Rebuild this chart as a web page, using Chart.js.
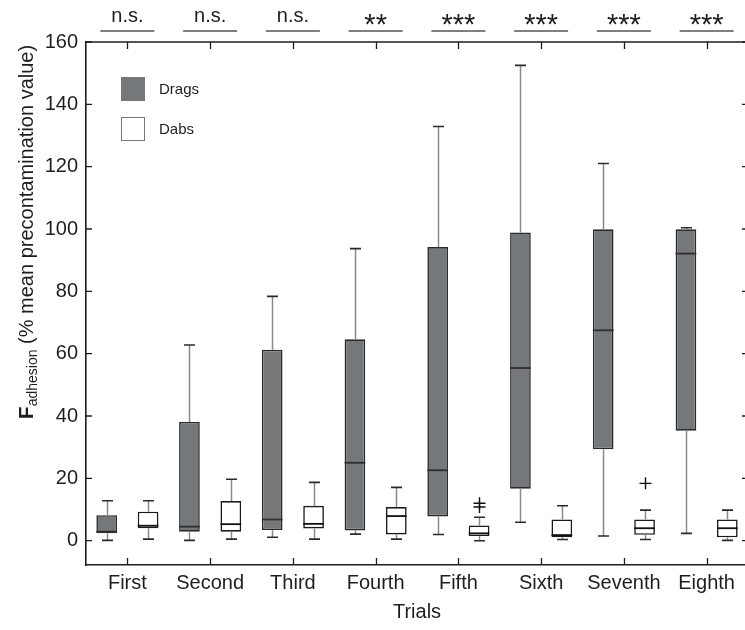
<!DOCTYPE html>
<html><head><meta charset="utf-8">
<script src="https://cdn.jsdelivr.net/npm/chart.js@4.4.1/dist/chart.umd.min.js"></script>
<style>html,body{margin:0;padding:0;background:#fff;overflow:hidden}canvas{display:block}</style>
</head><body>
<canvas id="c" width="748" height="630"></canvas>
<script>
const categories = ['First','Second','Third','Fourth','Fifth','Sixth','Seventh','Eighth'];
const significance = ['n.s.','n.s.','n.s.','**','***','***','***','***'];
const yTicks = [0,20,40,60,80,100,120,140,160];

const dragsMin = [0.1, 0.1, 1.1, 2.1, 2.0, 5.9, 1.5, 2.35];
const dragsQ1  = [2.4, 2.9, 3.4, 3.3, 7.8, 16.7, 29.3, 35.3];
const dragsMed = [2.9, 4.5, 6.8, 25.0, 22.6, 55.4, 67.5, 92.1];
const dragsQ3  = [8.2, 38.1, 61.3, 64.6, 94.2, 98.9, 99.9, 99.9];
const dragsMax = [12.8, 62.8, 78.4, 93.7, 132.9, 152.5, 121.0, 100.4];
const dragsOutliers = [[], [], [], [], [], [], [], []];

const dabsMin = [0.5, 0.5, 0.5, 0.5, 0.0, 0.4, 0.4, 0.1];
const dabsQ1  = [4.0, 2.9, 3.95, 2.0, 1.5, 1.1, 1.9, 1.1];
const dabsMed = [4.8, 5.3, 5.4, 7.9, 2.35, 1.8, 4.0, 4.0];
const dabsQ3  = [9.3, 12.7, 11.2, 10.8, 4.9, 6.8, 6.8, 6.8];
const dabsMax = [12.8, 19.7, 18.7, 17.1, 7.5, 11.2, 9.8, 9.8];
const dabsOutliers = [[], [], [], [], [12.0, 10.8], [], [18.4], []];

const FONT = "'Liberation Sans', Arial, Helvetica, sans-serif";
const INK = '#1e1e1e';
const DRAG_FILL = '#75787b';

const stats = [
  {min: dragsMin, q1: dragsQ1, med: dragsMed, q3: dragsQ3, max: dragsMax, out: dragsOutliers, medColor: '#2e2e2e'},
  {min: dabsMin, q1: dabsQ1, med: dabsMed, q3: dabsQ3, max: dabsMax, out: dabsOutliers, medColor: '#111'}
];

const boxExtras = {
  id: 'boxExtras',
  afterDatasetsDraw(chart) {
    const ctx = chart.ctx, ys = chart.scales.y;
    chart.data.datasets.forEach((ds, di) => {
      const meta = chart.getDatasetMeta(di);
      const s = stats[di];
      meta.data.forEach((bar, i) => {
        const x = Math.round(bar.x) + 0.5;
        const hw = bar.width / 2;
        ctx.save();
        // whisker stems
        ctx.strokeStyle = '#8a8a8a';
        ctx.lineWidth = 1.5;
        ctx.beginPath();
        ctx.moveTo(x, ys.getPixelForValue(s.q3[i]));
        ctx.lineTo(x, ys.getPixelForValue(s.max[i]));
        ctx.moveTo(x, ys.getPixelForValue(s.q1[i]));
        ctx.lineTo(x, ys.getPixelForValue(s.min[i]));
        ctx.stroke();
        // caps
        ctx.strokeStyle = '#2a2a2a';
        ctx.lineWidth = 1.6;
        ctx.beginPath();
        [s.max[i], s.min[i]].forEach(v => {
          const yy = ys.getPixelForValue(v);
          ctx.moveTo(x - 5.5, yy); ctx.lineTo(x + 5.5, yy);
        });
        ctx.stroke();
        // median
        ctx.strokeStyle = s.medColor;
        ctx.lineWidth = 1.8;
        ctx.beginPath();
        const ym = ys.getPixelForValue(s.med[i]);
        ctx.moveTo(bar.x - hw, ym); ctx.lineTo(bar.x + hw, ym);
        ctx.stroke();
        // outliers
        ctx.strokeStyle = '#111';
        ctx.lineWidth = 1.4;
        s.out[i].forEach(v => {
          const yy = ys.getPixelForValue(v);
          ctx.beginPath();
          ctx.moveTo(x - 6, yy); ctx.lineTo(x + 6, yy);
          ctx.moveTo(x, yy - 6); ctx.lineTo(x, yy + 6);
          ctx.stroke();
        });
        ctx.restore();
      });
    });
  },
  afterDraw(chart) {
    const ctx = chart.ctx, xs = chart.scales.x, ys = chart.scales.y;
    const a = chart.chartArea;
    ctx.save();
    // top border
    ctx.strokeStyle = INK; ctx.lineWidth = 1.5;
    ctx.beginPath(); ctx.moveTo(a.left, a.top); ctx.lineTo(a.right, a.top); ctx.stroke();
    // tick marks (inward)
    ctx.lineWidth = 1.3;
    ctx.beginPath();
    ys.ticks.forEach(t => {
      const yy = ys.getPixelForValue(t.value);
      ctx.moveTo(a.left, yy); ctx.lineTo(a.left + 6, yy);
      ctx.moveTo(a.right - 6, yy); ctx.lineTo(a.right, yy);
    });
    categories.forEach((c, i) => {
      const xx = Math.round(xs.getPixelForValue(i)) + 0.5;
      ctx.moveTo(xx, a.bottom); ctx.lineTo(xx, a.bottom - 7);
      ctx.moveTo(xx, a.top); ctx.lineTo(xx, a.top + 7);
    });
    ctx.stroke();
    // significance annotations
    categories.forEach((c, i) => {
      const xx = xs.getPixelForValue(i);
      const lab = significance[i];
      ctx.fillStyle = INK;
      ctx.textAlign = 'center';
      ctx.textBaseline = 'alphabetic';
      if (lab.indexOf('*') >= 0) {
        ctx.font = '29px ' + FONT;
        ctx.fillText(lab, xx, 33.5);
      } else {
        ctx.font = '20px ' + FONT;
        ctx.fillText(lab, xx, 22);
      }
      ctx.strokeStyle = '#555'; ctx.lineWidth = 1.5;
      ctx.beginPath(); ctx.moveTo(xx - 27, 31); ctx.lineTo(xx + 27, 31); ctx.stroke();
    });
    // legend
    chart.data.datasets.forEach((ds, di) => {
      const top = 77 + di * 40;
      ctx.fillStyle = ds.backgroundColor;
      ctx.fillRect(121, top, 24, 24);
      ctx.strokeStyle = '#777'; ctx.lineWidth = 1;
      ctx.strokeRect(121.5, top + 0.5, 23, 23);
      ctx.fillStyle = INK;
      ctx.font = '15px ' + FONT;
      ctx.textAlign = 'left';
      ctx.textBaseline = 'middle';
      ctx.fillText(ds.label, 159, top + 13);
    });
    // y-axis title with bold F and subscript
    const parts = [
      {t: 'F', f: 'bold 21px ' + FONT, dy: 0},
      {t: 'adhesion', f: '14px ' + FONT, dy: 4},
      {t: ' (% mean precontamination value)', f: '20px ' + FONT, dy: 0}
    ];
    let W = 0;
    parts.forEach(p => { ctx.font = p.f; p.w = ctx.measureText(p.t).width; W += p.w; });
    ctx.translate(33, 232);
    ctx.rotate(-Math.PI / 2);
    ctx.textAlign = 'left';
    ctx.textBaseline = 'alphabetic';
    ctx.fillStyle = INK;
    let cx = -W / 2;
    parts.forEach(p => { ctx.font = p.f; ctx.fillText(p.t, cx, p.dy); cx += p.w; });
    ctx.restore();
  }
};

new Chart(document.getElementById('c'), {
  type: 'bar',
  data: {
    labels: categories,
    datasets: [
      {label: 'Drags', data: dragsQ1.map((v, i) => [v, dragsQ3[i]]), backgroundColor: DRAG_FILL,
       borderColor: '#2b2b2b', borderWidth: 1.6, borderSkipped: false},
      {label: 'Dabs', data: dabsQ1.map((v, i) => [v, dabsQ3[i]]), backgroundColor: '#ffffff',
       borderColor: '#1a1a1a', borderWidth: 1.6, borderSkipped: false}
    ]
  },
  options: {
    responsive: false,
    animation: false,
    devicePixelRatio: 1,
    layout: {padding: {top: 42, right: 0, bottom: 0, left: 0}},
    datasets: {bar: {categoryPercentage: 1.0, barPercentage: 0.5}},
    plugins: {legend: {display: false}, tooltip: {enabled: false}},
    scales: {
      x: {
        type: 'category',
        grid: {display: false, drawTicks: false},
        border: {display: true, color: INK, width: 1.6},
        ticks: {font: {family: FONT, size: 20}, color: INK, padding: 6, maxRotation: 0, autoSkip: false},
        title: {display: true, text: 'Trials', font: {family: FONT, size: 20}, color: INK, padding: {top: 0, bottom: 6}},
        afterFit(scale) { scale.height = 65; }
      },
      y: {
        type: 'linear',
        min: -7.8, max: 160,
        grid: {display: false, drawTicks: false},
        border: {display: true, color: INK, width: 1.6},
        ticks: {font: {family: FONT, size: 20}, color: INK, padding: 8},
        afterBuildTicks(scale) { scale.ticks = yTicks.map(v => ({value: v})); },
        afterFit(scale) { scale.width = 86; }
      }
    }
  },
  plugins: [boxExtras]
});
</script>
</body></html>
